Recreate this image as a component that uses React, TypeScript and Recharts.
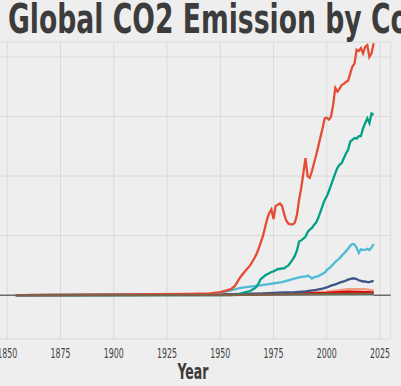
import React from 'react';
import { LineChart, Line, XAxis, YAxis, CartesianGrid, ReferenceLine } from 'recharts';

const xTicks = [1850, 1875, 1900, 1925, 1950, 1975, 2000, 2025];
const yTicks = [0, 2500, 5000, 7500, 10000];

const redSeries: [number, number][] = [
  [1854, 0], [1880, 12], [1900, 25], [1920, 38], [1935, 50], [1945, 75], [1950, 125], [1953, 200],
  [1955, 250], [1957, 400], [1959, 700], [1960, 825], [1962, 1050], [1964, 1250], [1966, 1550],
  [1967, 1725], [1968, 1950], [1970, 2475], [1972, 3200], [1973, 3450], [1974, 3600], [1975, 3200],
  [1976, 3750], [1977, 3800], [1978, 3850], [1979, 3750], [1980, 3400], [1981, 3125], [1982, 3000],
  [1983, 2975], [1984, 2975], [1985, 3050], [1986, 3375], [1987, 4000], [1988, 4500], [1989, 5125],
  [1990, 5750], [1991, 5000], [1992, 4925], [1993, 5200], [1994, 5550], [1995, 5875], [1996, 6250],
  [1997, 6625], [1998, 7000], [1999, 7425], [2000, 7450], [2001, 7375], [2002, 7500], [2003, 8000],
  [2004, 8700], [2005, 8550], [2006, 8675], [2007, 8825], [2008, 8875], [2009, 8950], [2010, 9000],
  [2011, 9300], [2012, 9600], [2013, 9725], [2014, 10300], [2015, 10250], [2016, 10375], [2017, 10150],
  [2018, 10425], [2019, 10500], [2020, 10000], [2021, 10150], [2022, 10575],
];

const greenSeries: [number, number][] = [
  [1854, 0], [1900, 0], [1950, 0], [1955, 0], [1958, 25], [1960, 75], [1962, 125], [1964, 175],
  [1966, 275], [1967, 350], [1968, 500], [1969, 675], [1970, 750], [1971, 825], [1972, 875],
  [1973, 925], [1974, 975], [1975, 1000], [1976, 1050], [1977, 1100], [1978, 1100], [1979, 1125],
  [1980, 1125], [1981, 1200], [1982, 1250], [1983, 1375], [1984, 1500], [1985, 1650], [1986, 1875],
  [1987, 2250], [1988, 2300], [1989, 2375], [1990, 2450], [1991, 2650], [1992, 2750], [1993, 2825],
  [1994, 2950], [1995, 3050], [1996, 3250], [1997, 3500], [1998, 3750], [1999, 4000], [2000, 4150],
  [2001, 4375], [2002, 4625], [2003, 4875], [2004, 5125], [2005, 5350], [2006, 5475], [2007, 5550],
  [2008, 5750], [2009, 5950], [2010, 6100], [2011, 6450], [2012, 6525], [2013, 6600], [2014, 6575],
  [2015, 6675], [2016, 6675], [2017, 7000], [2018, 7225], [2019, 7425], [2020, 7225], [2021, 7625],
  [2022, 7575],
];

const lightBlueSeries: [number, number][] = [
  [1854, 0], [1900, 12], [1930, 25], [1940, 38], [1945, 50], [1950, 100], [1955, 200], [1959, 300],
  [1963, 350], [1968, 400], [1972, 450], [1975, 500], [1979, 550], [1981, 600], [1984, 675],
  [1987, 750], [1989, 775], [1990, 775], [1991, 825], [1992, 775], [1993, 700], [1994, 750],
  [1995, 775], [1996, 800], [1997, 850], [1998, 900], [1999, 950], [2000, 1050], [2001, 1125],
  [2002, 1200], [2003, 1300], [2004, 1400], [2005, 1475], [2006, 1550], [2007, 1650], [2008, 1750],
  [2009, 1850], [2010, 1950], [2011, 2075], [2012, 2150], [2013, 2125], [2014, 2000], [2015, 1775],
  [2016, 1925], [2017, 1900], [2018, 1900], [2019, 1950], [2020, 1900], [2021, 2000], [2022, 2150],
];

const navySeries: [number, number][] = [
  [1854, 0], [1900, 8], [1950, 25], [1960, 50], [1970, 75], [1975, 100], [1980, 112], [1985, 125],
  [1990, 162], [1995, 225], [1998, 275], [2000, 325], [2002, 400], [2004, 450], [2006, 525],
  [2008, 575], [2010, 650], [2012, 700], [2013, 700], [2014, 675], [2015, 625], [2016, 600],
  [2017, 575], [2018, 575], [2019, 550], [2020, 550], [2021, 575], [2022, 600],
];

const salmonSeries: [number, number][] = [
  [1854, 0], [1950, 12], [1970, 38], [1985, 75], [1990, 100], [1995, 125], [2000, 150], [2005, 200],
  [2010, 250], [2015, 250], [2018, 250], [2020, 225], [2022, 200],
];

const slateSeries: [number, number][] = [[1854, 0], [1960, 12], [1990, 50], [2010, 75], [2022, 75]];
const mintSeries: [number, number][] = [[1854, 0], [1990, 25], [2022, 25]];
const darkRedSeries: [number, number][] = [
  [1854, 0], [1950, 25], [1970, 50], [1990, 75], [2000, 100], [2010, 150], [2015, 138], [2022, 112],
];
const tanSeries: [number, number][] = [[1854, 0], [1900, 10], [1950, 20], [2000, 40], [2022, 50]];
const brownSeries: [number, number][] = [[1854, 0], [1950, 8], [2000, 50], [2022, 60]];

const seriesList = [
  { name: 'tan', color: '#B09C85', points: tanSeries },
  { name: 'mint', color: '#91D1C2', points: mintSeries },
  { name: 'slate', color: '#8491B4', points: slateSeries },
  { name: 'salmon', color: '#F39B7F', points: salmonSeries },
  { name: 'darkred', color: '#DC0000', points: darkRedSeries },
  { name: 'navy', color: '#3C5488', points: navySeries },
  { name: 'lightblue', color: '#4DBBD5', points: lightBlueSeries },
  { name: 'green', color: '#00A087', points: greenSeries },
  { name: 'red', color: '#E64B35', points: redSeries },
  { name: 'brown', color: '#7E6148', points: brownSeries },
];

const FONT = '"Liberation Sans Narrow", "DejaVu Sans Condensed", "Roboto Condensed", "Liberation Sans", sans-serif';

const Tick = (props: any) => {
  const { x, y, payload } = props;
  return (
    <text x={x} y={y + 19} textAnchor="middle" fill="#444" fontSize={14} fontFamily={FONT}
      textLength={20} lengthAdjust="spacingAndGlyphs">
      {payload.value}
    </text>
  );
};

export default function App() {
  const SHIFT = 40;
  return (
    <div style={{ position: 'fixed', left: 0, top: 0, width: 401, height: 386, overflow: 'hidden', background: '#EEEEEE' }}>
      <div style={{ position: 'absolute', left: -SHIFT, top: 0 }}>
        <LineChart width={441} height={386} margin={{ top: 42, right: 10.3, bottom: 0, left: 36.6 }}>
          <CartesianGrid stroke="#DADADA" strokeWidth={1} />
          <XAxis type="number" dataKey="x" domain={[1845, 2030]} ticks={xTicks} allowDataOverflow
            tickLine={false} axisLine={false} tickSize={0} tickMargin={0} height={47} interval={0}
            tick={<Tick />} />
          <YAxis hide type="number" dataKey="y" domain={[-1840, 10630]} ticks={yTicks} allowDataOverflow />
          <ReferenceLine y={0} stroke="#333" strokeWidth={1} />
          {seriesList.map((s) => (
            <Line key={s.name} name={s.name} data={s.points.map(([x, y]) => ({ x, y }))} dataKey="y"
              type="linear" stroke={s.color} strokeWidth={2.3} dot={false} isAnimationActive={false} />
          ))}
        </LineChart>
      </div>
      <svg width={401} height={386} style={{ position: 'absolute', left: 0, top: 0, pointerEvents: 'none' }}>
        <text x={8} y={33} fontSize={40} fontWeight="bold" fill="#3C3C3C" fontFamily={FONT}
          textLength={482} lengthAdjust="spacingAndGlyphs">Global CO2 Emission by Country</text>
        <text x={193} y={379} fontSize={22} fontWeight="bold" fill="#3C3C3C" fontFamily={FONT}
          textAnchor="middle" textLength={31} lengthAdjust="spacingAndGlyphs">Year</text>
      </svg>
    </div>
  );
}
